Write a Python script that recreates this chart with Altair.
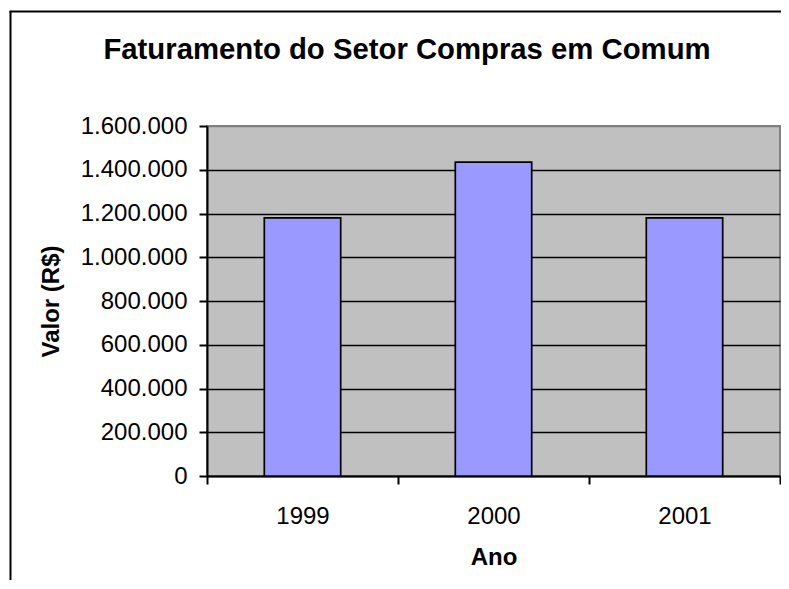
import altair as alt
import pandas as pd

anos = ["1999", "2000", "2001"]
valores = [1180000, 1435000, 1180000]
titulo = "Faturamento do Setor Compras em Comum"

df = pd.DataFrame({"Ano": anos, "Valor": valores})
FONT = "Liberation Sans"

bars = alt.Chart(df).mark_bar(
    color="#9999FF", stroke="black", strokeWidth=1.7,
    width=alt.RelativeBandSize(0.4)
).encode(
    x=alt.X("Ano:N", sort=anos,
            scale=alt.Scale(paddingInner=0, paddingOuter=0),
            axis=alt.Axis(title="Ano", labelAngle=0, tickBand="extent",
                          labelFontSize=24, labelPadding=20, labelColor="black",
                          labelFont=FONT,
                          titleFontSize=24, titleFont=FONT, titleFontWeight="bold",
                          titleColor="black", titleBaseline="alphabetic", titleY=88,
                          domainColor="black", domainWidth=2,
                          tickColor="black", tickWidth=2, tickSize=8, grid=False)),
    y=alt.Y("Valor:Q",
            scale=alt.Scale(domain=[0, 1600000], nice=False),
            axis=alt.Axis(title="Valor (R$)", values=list(range(0, 1600001, 200000)),
                          labelExpr="replace(format(datum.value, ','), regexp(',', 'g'), '.')",
                          labelFontSize=24, labelPadding=12, labelColor="black",
                          labelFont=FONT,
                          titleFontSize=24, titleFont=FONT, titleFontWeight="bold",
                          titleColor="black", titleBaseline="alphabetic",
                          titleX=-149, titleY=175, titleAlign="center", titleAngle=270,
                          domainColor="black", domainWidth=2,
                          tickColor="black", tickWidth=2, tickSize=8,
                          grid=True, gridWidth=1.5,
                          gridColor=alt.condition("datum.value >= 1600000",
                                                  alt.value("#808080"), alt.value("black")))),
)

frame = pd.DataFrame({"k": [0]})
left_border = alt.Chart(frame).mark_rule(color="black", strokeWidth=2).encode(
    x=alt.value(-196.5), y=alt.value(-115), y2=alt.value(454)
)
top_border = alt.Chart(frame).mark_rule(color="black", strokeWidth=2).encode(
    x=alt.value(-197.5), x2=alt.value(574), y=alt.value(-114.5)
)
title_text = alt.Chart(frame).mark_text(
    font=FONT, fontSize=29.3, fontWeight="bold", color="black",
    align="center", baseline="alphabetic"
).encode(x=alt.value(200), y=alt.value(-66.7), text=alt.value(titulo))

chart = alt.layer(left_border, top_border, bars, title_text).properties(
    width=573, height=350,
    padding={"left": 199, "top": 118, "right": 1, "bottom": 104},
    autosize=alt.AutoSizeParams(type="none"),
).configure_view(fill="#C0C0C0", stroke="#808080", strokeWidth=2)

chart.save("out.html", embed_options={"renderer": "svg", "actions": False})
